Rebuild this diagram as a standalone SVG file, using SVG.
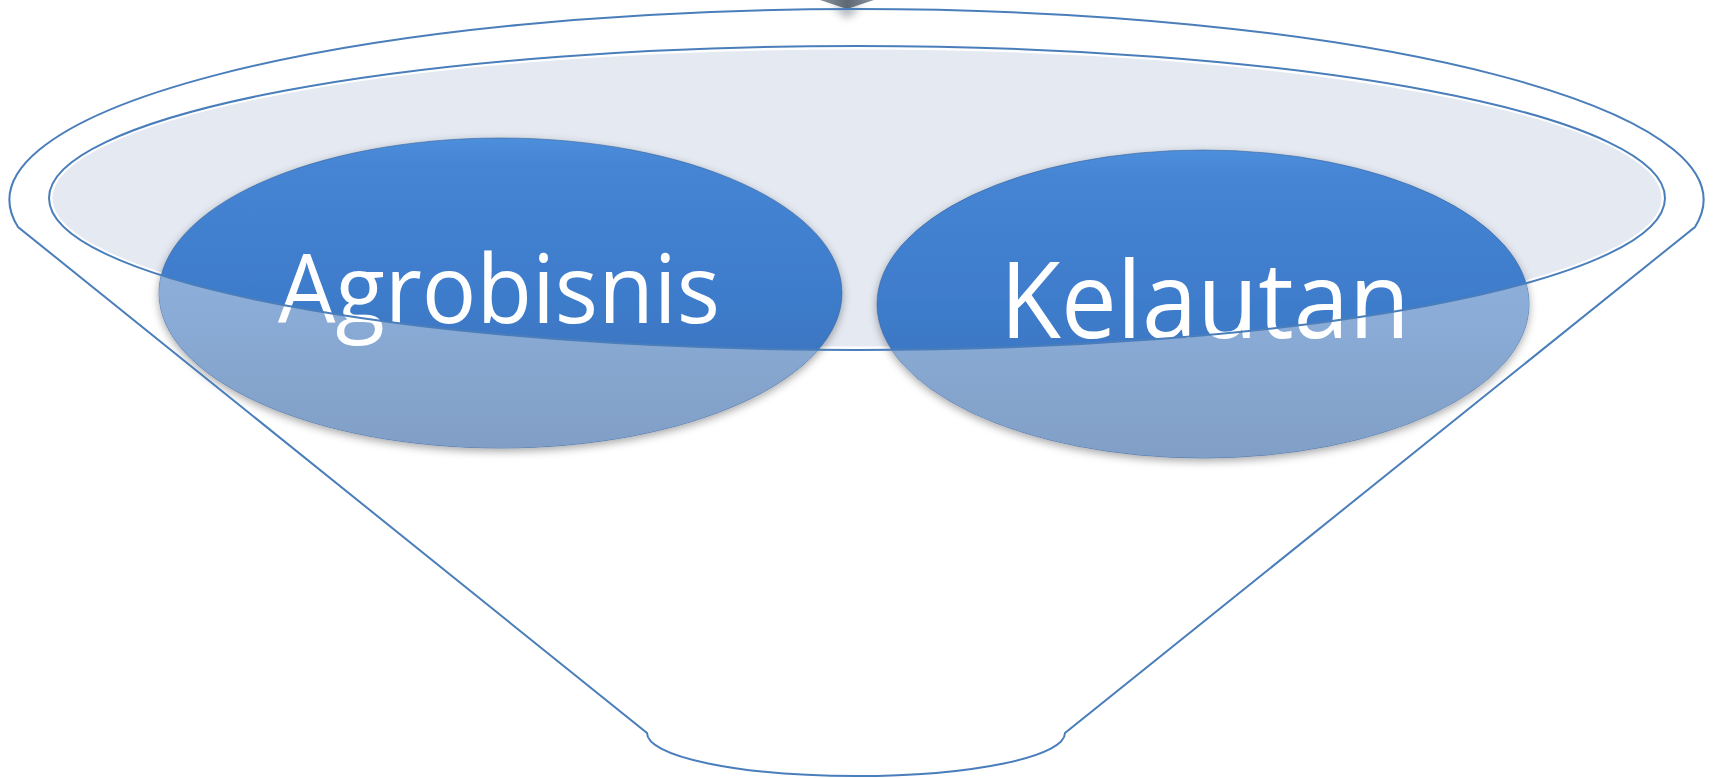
<svg xmlns="http://www.w3.org/2000/svg" width="1714" height="778" viewBox="0 0 1714 778">
  <style>
    .rim { fill: none; stroke: #4a7ebb; stroke-width: 2; }
    .label { fill: #ffffff; font-family: "Open Sans", "Noto Sans", "Liberation Sans", sans-serif; text-anchor: middle; }
    .bubble { stroke: #33609a; stroke-width: 1; stroke-opacity: 0.6; }
  </style>
  <defs>
    <linearGradient id="dark" x1="0" y1="0" x2="0" y2="1">
      <stop offset="0" stop-color="#4e8fdc"/>
      <stop offset="0.08" stop-color="#4585d4"/>
      <stop offset="0.5" stop-color="#3e7ccb"/>
      <stop offset="1" stop-color="#386eb6"/>
    </linearGradient>
    <linearGradient id="light" x1="0" y1="0" x2="0" y2="1">
      <stop offset="0" stop-color="#95b5e1"/>
      <stop offset="0.5" stop-color="#8badd8"/>
      <stop offset="1" stop-color="#819fc6"/>
    </linearGradient>
    <linearGradient id="arrowGrad" x1="0" y1="0" x2="1" y2="0">
      <stop offset="0" stop-color="#8a949f"/>
      <stop offset="0.5" stop-color="#5d6874"/>
      <stop offset="1" stop-color="#8a949f"/>
    </linearGradient>
    <filter id="shadow" x="-10%" y="-10%" width="120%" height="130%">
      <feDropShadow dx="0" dy="3" stdDeviation="4" flood-color="#000000" flood-opacity="0.35"/>
    </filter>
    <filter id="blur" x="-50%" y="-50%" width="200%" height="300%">
      <feGaussianBlur stdDeviation="4"/>
    </filter>
    <clipPath id="outsideMouth">
      <path clip-rule="evenodd" d="M0 0H1714V778H0Z M49 198 A808 152 0 1 0 1665 198 A808 152 0 1 0 49 198Z"/>
    </clipPath>
  </defs>

  <rect x="0" y="0" width="1714" height="778" fill="#ffffff"/>

  <g id="funnel-body">
    <path d="M18 227 A847 191 0 1 1 1695 227 L1065 733 A209 43 0 0 1 647 733 Z" fill="#ffffff"/>
    <ellipse cx="857" cy="198" rx="806" ry="150" fill="#e4e9f2" stroke="#ffffff" stroke-width="3"/>
  </g>

  <g id="arrow-tip">
    <path d="M832 6 L862 6 L847 18 Z" fill="#6b7480" opacity="0.6" filter="url(#blur)"/>
    <path d="M820 0 L874 0 L850 8 Q847 9 844 8 Z" fill="url(#arrowGrad)"/>
  </g>

  <g id="node-agrobisnis">
    <ellipse class="bubble" cx="500.5" cy="293" rx="341.5" ry="155" fill="url(#dark)" filter="url(#shadow)"/>
    <ellipse cx="500.5" cy="293" rx="341.5" ry="155" fill="url(#light)" clip-path="url(#outsideMouth)"/>
    <text class="label" x="499" y="323" font-size="95" textLength="442" lengthAdjust="spacingAndGlyphs">Agrobisnis</text>
  </g>

  <g id="node-kelautan">
    <ellipse class="bubble" cx="1203" cy="304" rx="326" ry="154" fill="url(#dark)" filter="url(#shadow)"/>
    <ellipse cx="1203" cy="304" rx="326" ry="154" fill="url(#light)" clip-path="url(#outsideMouth)"/>
    <text class="label" x="1205" y="338" font-size="106" textLength="410" lengthAdjust="spacingAndGlyphs">Kelautan</text>
  </g>

  <g id="funnel-outline">
    <path class="rim" d="M18 227 A847 191 0 1 1 1695 227 L1065 733 A209 43 0 0 1 647 733 Z"/>
    <ellipse class="rim" cx="857" cy="198" rx="808" ry="152" stroke-width="1.6"/>
  </g>
</svg>
